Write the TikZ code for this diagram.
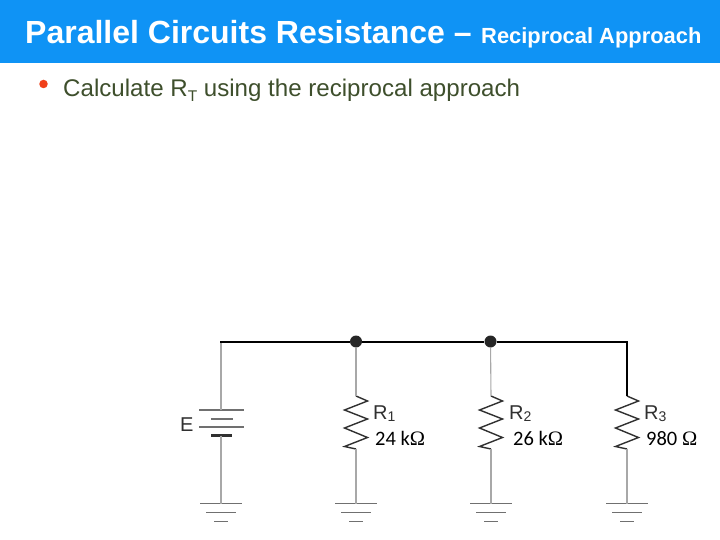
\documentclass[tikz,border=0pt]{standalone}
\usepackage{fontspec}
\setmainfont{Liberation Sans}
\newfontfamily\valfont{Carlito}
\newfontfamily\omfont{Liberation Serif}
\definecolor{band}{HTML}{0F93F5}
\definecolor{bodytxt}{HTML}{3E4F2C}
\definecolor{bul}{HTML}{F0401A}
\definecolor{wiregray}{HTML}{A8A8A8}
\definecolor{symgray}{HTML}{707070}
\definecolor{labgray}{HTML}{303030}
\newcommand{\Om}{{\omfont\char"03A9}}
\tikzset{
  x=1pt,y=-1pt,
  txt/.style={inner sep=0pt,anchor=base west},
  thick wire/.style={draw=black,line width=2pt},
  thin wire/.style={draw=wiregray,line width=1.1pt},
  plate/.style={draw=symgray,line width=1.5pt},
  zig/.style={draw=labgray,line width=1.4pt,line join=miter},
  dotnode/.style={circle,fill=black!85,inner sep=0pt,minimum size=12pt},
  rlab/.style={txt,font=\fontsize{20}{20}\selectfont,text=labgray},
  vlab/.style={txt,font=\valfont\fontsize{20.5}{21}\selectfont,text=black},
}
\newcommand{\resist}[2]{% name, x
  \coordinate (#1t) at (#2,396);
  \coordinate (#1b) at (#2,449);
  \draw[zig] (#1t) -- ++(11.5,5) -- ++(-23,9) -- ++(23,9) -- ++(-23,9) -- ++(23,9.5) -- ++(-23,9) -- (#1b);
}
\newcommand{\ground}[2]{% name, x
  \coordinate (#1g) at (#2,503.5);
  \draw[plate] ($(#1g)+(-21,0)$) -- ($(#1g)+(21,0)$);
  \draw[plate] ($(#1g)+(-15,9)$) -- ($(#1g)+(15,9)$);
  \draw[plate] ($(#1g)+(-7,18)$) -- ($(#1g)+(7,18)$);
}
\usetikzlibrary{calc}
\begin{document}
\begin{tikzpicture}
\useasboundingbox (0,0) rectangle (720,540);
\fill[white] (0,0) rectangle (720,540);
\fill[band] (0,0) rectangle (720,63);
\node[txt,text=white,font=\bfseries\fontsize{32}{32}\selectfont] (title) at (25,43.5) {Parallel Circuits Resistance –};
\node[txt,text=white,font=\bfseries\fontsize{21.9}{22}\selectfont] (title2) at (481,44) {Reciprocal Approach};
\node[circle,fill=bul,inner sep=0pt,minimum size=8.5pt] (bullet) at (43.5,84) {};
\node[txt,text=bodytxt,font=\fontsize{24.1}{25}\selectfont] (body) at (63,97) {Calculate R\raisebox{-5pt}{\fontsize{15.5}{16}\selectfont T} using the reciprocal approach};

% junctions
\coordinate (tl) at (220,341.5);
\coordinate (tr) at (627,341.5);
\node[dotnode] (j1) at (356,341.5) {};
\node[dotnode] (j2) at (490.5,341.5) {};

\resist{ra}{356}
\resist{rb}{491}
\resist{rc}{627}
\ground{ge}{221}
\ground{ga}{356}
\ground{gb}{491}
\ground{gc}{627}

% battery
\coordinate (bt) at (221,410);
\coordinate (bb) at (221,435.5);
\draw[plate] (199,410) -- (244,410);
\draw[draw=symgray,line width=2pt] (211,418.5) -- (233,418.5);
\draw[plate] (199,427) -- (244,427);
\draw[draw=labgray,line width=2.4pt] (211,435.5) -- (232,435.5);

% wires
\draw[thin wire] (221,341.5) -- (bt);
\draw[thin wire] (bb) -- (geg);
\draw[thin wire] (j1) -- (rat);
\draw[thin wire] (rab) -- (gag);
\draw[thin wire] (j2) -- (rbt);
\draw[thin wire] (rbb) -- (gbg);
\draw[thin wire] (rcb) -- (gcg);
\draw[thick wire] (tl) -- (j1) -- (j2) -- (tr) -- (rct);

% labels
\node[txt,font=\fontsize{20}{20}\selectfont,text=labgray] (elab) at (180,431) {E};
\node[rlab] (r1) at (373,419) {R\raisebox{-2.5pt}{\fontsize{14}{14}\selectfont 1}};
\node[rlab] (r2) at (509,419) {R\raisebox{-2.5pt}{\fontsize{14}{14}\selectfont 2}};
\node[rlab] (r3) at (644,419) {R\raisebox{-2.5pt}{\fontsize{14}{14}\selectfont 3}};
\node[vlab] (v1) at (375,445) {24 k\Om};
\node[vlab] (v2) at (513,445) {26 k\Om};
\node[vlab] (v3) at (646,445) {980 \Om};
\end{tikzpicture}
\end{document}
